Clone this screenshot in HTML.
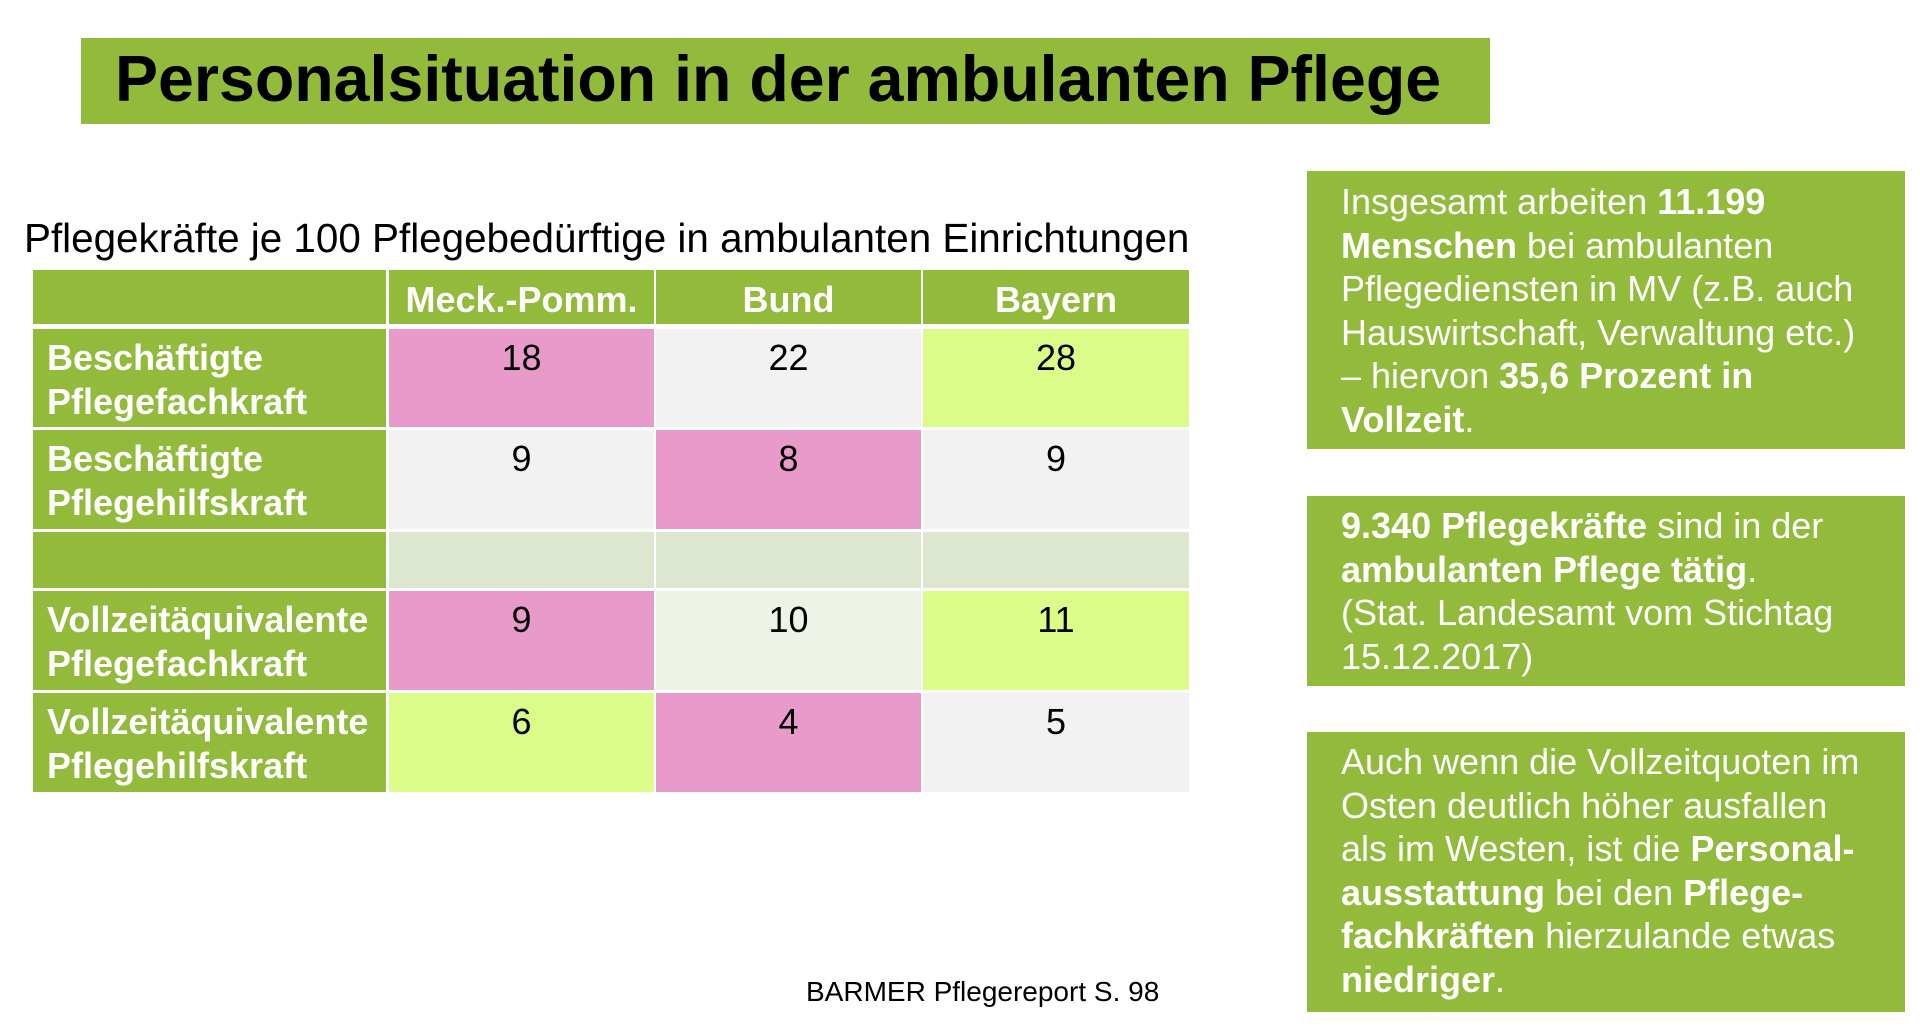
<!DOCTYPE html>
<html><head><meta charset="utf-8"><style>
*{margin:0;padding:0;box-sizing:border-box}
body{width:1920px;height:1026px;background:#fff;position:relative;overflow:hidden;font-family:"Liberation Sans",Arial,sans-serif}
.abs{position:absolute}
.g{background:#93bb3b}
#title{left:81px;top:38px;width:1409px;height:86px}
#title span{position:absolute;left:34px;top:4px;font-size:64.5px;font-weight:bold;color:#000;white-space:nowrap}
#sub{left:24px;top:215px;font-size:40.4px;white-space:nowrap;color:#000}
.c{position:absolute;font-size:36px;line-height:44px;white-space:nowrap}
.lab{color:#fff;font-weight:bold;padding:0 0 0 14px;}
.num{text-align:center;color:#000;padding-top:7px;font-size:36px}
.hd{color:#fff;font-weight:bold;text-align:center;padding-top:8px}
.box{position:absolute;left:1307px;width:598px;color:#fff;font-size:36px;line-height:43.5px;padding-left:34px;white-space:nowrap}
.box b{font-weight:bold}
#foot{left:806px;top:976px;font-size:28px;white-space:nowrap}
</style></head><body>
<div id="title" class="abs g"><span>Personalsituation in der ambulanten Pflege</span></div>
<div id="sub" class="abs">Pflegekräfte je 100 Pflegebedürftige in ambulanten Einrichtungen</div>

<div class="c g" style="left:33px;top:270px;width:353px;height:54px"></div>
<div class="c g hd" style="left:389px;top:270px;width:265px;height:54px">Meck.-Pomm.</div>
<div class="c g hd" style="left:656px;top:270px;width:265px;height:54px">Bund</div>
<div class="c g hd" style="left:923px;top:270px;width:266px;height:54px">Bayern</div>

<div class="c g lab" style="left:33px;top:329px;width:353px;height:98px;padding-top:7px">Beschäftigte<br>Pflegefachkraft</div>
<div class="c num" style="left:389px;top:329px;width:265px;height:98px;background:#e89bcb">18</div>
<div class="c num" style="left:656px;top:329px;width:265px;height:98px;background:#f2f2f2">22</div>
<div class="c num" style="left:923px;top:329px;width:266px;height:98px;background:#dcfc8a">28</div>

<div class="c g lab" style="left:33px;top:430px;width:353px;height:99px;padding-top:7px">Beschäftigte<br>Pflegehilfskraft</div>
<div class="c num" style="left:389px;top:430px;width:265px;height:99px;background:#f2f2f2">9</div>
<div class="c num" style="left:656px;top:430px;width:265px;height:99px;background:#e89bcb">8</div>
<div class="c num" style="left:923px;top:430px;width:266px;height:99px;background:#f2f2f2">9</div>

<div class="c g" style="left:33px;top:532px;width:353px;height:56px"></div>
<div class="c" style="left:389px;top:532px;width:265px;height:56px;background:#dde7cf"></div>
<div class="c" style="left:656px;top:532px;width:265px;height:56px;background:#dde7cf"></div>
<div class="c" style="left:923px;top:532px;width:266px;height:56px;background:#dde7cf"></div>

<div class="c g lab" style="left:33px;top:591px;width:353px;height:99px;padding-top:7px">Vollzeitäquivalente<br>Pflegefachkraft</div>
<div class="c num" style="left:389px;top:591px;width:265px;height:99px;background:#e89bcb">9</div>
<div class="c num" style="left:656px;top:591px;width:265px;height:99px;background:#eef3e8">10</div>
<div class="c num" style="left:923px;top:591px;width:266px;height:99px;background:#dcfc8a">11</div>

<div class="c g lab" style="left:33px;top:693px;width:353px;height:99px;padding-top:7px">Vollzeitäquivalente<br>Pflegehilfskraft</div>
<div class="c num" style="left:389px;top:693px;width:265px;height:99px;background:#dcfc8a">6</div>
<div class="c num" style="left:656px;top:693px;width:265px;height:99px;background:#e89bcb">4</div>
<div class="c num" style="left:923px;top:693px;width:266px;height:99px;background:#f2f2f2">5</div>

<div class="box g" style="top:171px;height:278px;padding-top:9px">Insgesamt arbeiten <b>11.199</b><br><b>Menschen</b> bei ambulanten<br>Pflegediensten in MV (z.B. auch<br>Hauswirtschaft, Verwaltung etc.)<br>– hiervon <b>35,6 Prozent in</b><br><b>Vollzeit</b>.</div>
<div class="box g" style="top:496px;height:190px;padding-top:8px"><b>9.340 Pflegekräfte</b> sind in der<br><b>ambulanten Pflege tätig</b>.<br>(Stat. Landesamt vom Stichtag<br>15.12.2017)</div>
<div class="box g" style="top:732px;height:280px;padding-top:8px">Auch wenn die Vollzeitquoten im<br>Osten deutlich höher ausfallen<br>als im Westen, ist die <b>Personal-</b><br><b>ausstattung</b> bei den <b>Pflege-</b><br><b>fachkräften</b> hierzulande etwas<br><b>niedriger</b>.</div>

<div id="foot" class="abs">BARMER Pflegereport S. 98</div>
</body></html>
